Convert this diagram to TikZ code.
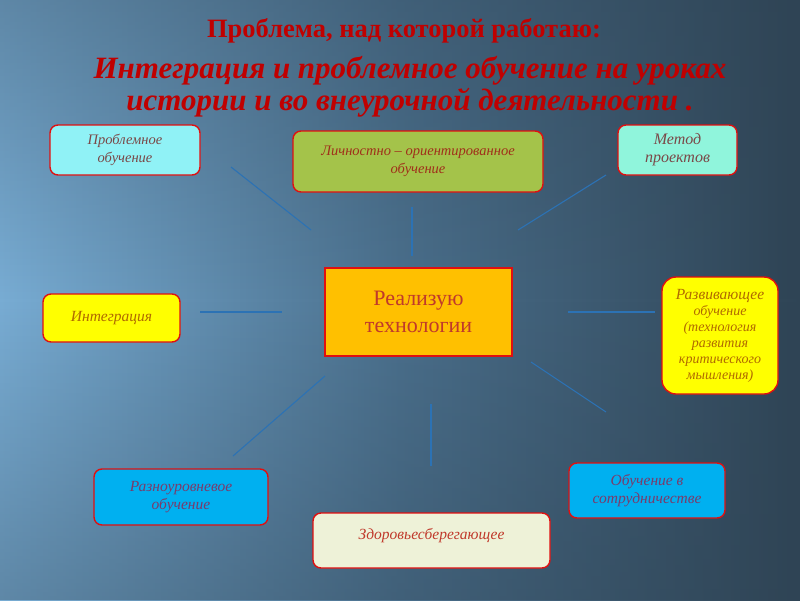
\documentclass[tikz,border=0pt]{standalone}
\usepackage{fontspec}
\setmainfont{Liberation Serif}
\usetikzlibrary{fadings}
\definecolor{bgL}{HTML}{78ACD3}
\definecolor{bgR}{HTML}{2F4455}
\definecolor{bgM}{HTML}{4A6F8C}
\definecolor{ttl}{HTML}{C00000}
\definecolor{bord}{HTML}{E01010}
\definecolor{conn}{HTML}{2C72B4}
\definecolor{cyanA}{HTML}{90F2F6}
\definecolor{greenA}{HTML}{A4C34A}
\definecolor{mintA}{HTML}{90F5DC}
\definecolor{orangeA}{HTML}{FFC000}
\definecolor{yelA}{HTML}{FFFF00}
\definecolor{blueA}{HTML}{00B0F0}
\definecolor{creamA}{HTML}{EEF2D8}
\definecolor{txtA}{HTML}{7A4848}
\definecolor{txtB}{HTML}{A0301A}
\definecolor{txtC}{HTML}{B06A00}
\definecolor{txtD}{HTML}{7A3B6B}
\definecolor{txtE}{HTML}{C0392B}
\tikzset{
  x=1pt,y=-1pt,
  tbox/.style={draw=bord,line width=1.4pt,rounded corners=8pt,align=center,
    font=\itshape\fontsize{14.5}{18}\selectfont,inner sep=2pt},
  conline/.style={draw=conn,line width=1.1pt}
}
\begin{document}
\begin{tikzpicture}
\useasboundingbox (0,0) rectangle (800,600);
% background
\shade[left color=bgL,right color=bgR,middle color=bgM] (0,0) rectangle (800,600);
\fill[bgR,path fading=north,opacity=0.35] (0,300) rectangle (800,600);
\fill[bgR,path fading=south,opacity=0.35] (0,0) rectangle (800,300);
% title
\node[text=ttl,font=\bfseries\fontsize{26.5}{30}\selectfont] (t1) at (404,31) {Проблема, над которой работаю:};
\node[text=ttl,font=\bfseries\itshape\fontsize{31}{32}\selectfont,align=center] (t2) at (410,87)
  {Интеграция и проблемное обучение на уроках\\истории и во внеурочной деятельности .};
% center
\node[draw=bord,line width=1.8pt,fill=orangeA,minimum width=187pt,minimum height=88pt,
  align=center,text=txtE,font=\fontsize{22}{27}\selectfont] (c) at (418.5,312)
  {Реализую\\технологии};
% boxes
\node[tbox,fill=cyanA,text=txtA,minimum width=150pt,minimum height=50pt] (p1) at (125,150) {Проблемное\\обучение};
\node[tbox,fill=greenA,text=txtB,minimum width=250pt,minimum height=61pt] (p2) at (418,161.5) {Личностно – ориентированное\\обучение};
\node[tbox,fill=mintA,text=txtA,minimum width=119pt,minimum height=50pt,font=\itshape\fontsize{16}{18}\selectfont] (p3) at (677.5,150) {Метод\\проектов};
\node[tbox,fill=yelA,text=txtC,minimum width=137pt,minimum height=48pt,font=\itshape\fontsize{15.5}{18}\selectfont] (p4) at (111.5,318) {Интеграция};
\node[tbox,fill=yelA,text=txtC,minimum width=116pt,minimum height=117pt,rounded corners=14pt,
  font=\itshape\fontsize{14}{16}\selectfont] (p5) at (720,335.5)
  {{\fontsize{15.5}{16}\selectfont Развивающее}\\обучение\\(технология\\развития\\критического\\мышления)};
\node[tbox,fill=blueA,text=txtD,minimum width=174pt,minimum height=56pt,font=\itshape\fontsize{15.5}{18}\selectfont] (p6) at (181,497) {Разноуровневое\\обучение};
\node[tbox,fill=creamA,text=txtE,minimum width=237pt,minimum height=55pt,font=\itshape\fontsize{15.5}{18}\selectfont] (p7) at (431.5,540.5) {\raisebox{14pt}{Здоровьесберегающее}};
\node[tbox,fill=blueA,text=txtD,minimum width=156pt,minimum height=55pt,font=\itshape\fontsize{15.5}{18}\selectfont] (p8) at (647,490.5) {Обучение в\\сотрудничестве};
% connector coordinates
\coordinate (a1) at (231,167); \coordinate (b1) at (311,230);
\coordinate (a2) at (412,207); \coordinate (b2) at (412,256);
\coordinate (a3) at (606,175); \coordinate (b3) at (518,230);
\coordinate (a4) at (200,312); \coordinate (b4) at (282,312);
\coordinate (a5) at (568,312); \coordinate (b5) at (655,312);
\coordinate (a6) at (325,376); \coordinate (b6) at (233,456);
\coordinate (a7) at (431,404); \coordinate (b7) at (431,466);
\coordinate (a8) at (531,362); \coordinate (b8) at (606,412);
\foreach \i in {1,...,8} {\draw[conline] (a\i) -- (b\i);}
\end{tikzpicture}
\end{document}
